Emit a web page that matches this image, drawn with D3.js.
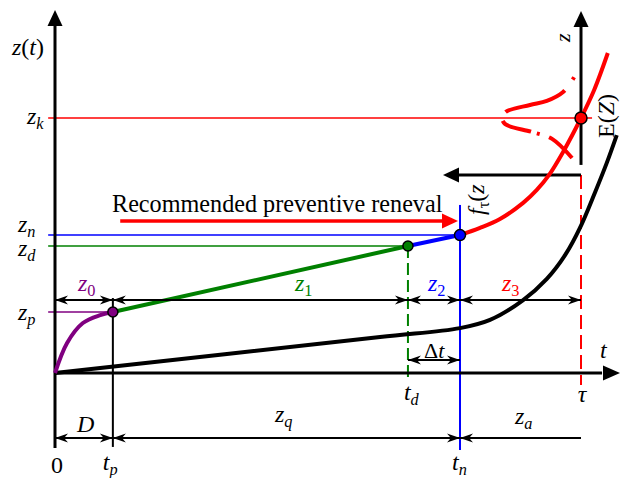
<!DOCTYPE html>
<html>
<head>
<meta charset="utf-8">
<script src="https://cdn.jsdelivr.net/npm/d3@7"></script>
<style>
  body { margin: 0; background: #fff; }
  svg { display: block; }
</style>
</head>
<body>
<div id="chart"></div>
<script>
// time marks on the t axis and wear levels on the z axis
const tp = 1.1, td = 6.71, tn = 7.7, tau = 10;
const zp = 2.39, zd = 4.98, zn = 5.41, zk = 10;

// wear curves [t, z]
const purpleCurve = [[0, 0], [0.23, 1.18], [0.53, 1.96], [0.86, 2.27], [tp, zp]];
const greenLine = [[tp, zp], [td, zd]];
const blueLine = [[td, zd], [tn, zn]];
const redCurve = [[tn, zn], [8.08, 5.69], [8.46, 6.04], [8.9, 6.67], [9.16, 7.18], [9.39, 7.76], [9.66, 8.67], [tau, zk], [10.25, 11.1], [10.51, 12.55]];
const blackCurve = [[0, 0], [6.18, 1.41], [tn, 1.76], [8.27, 2.08], [8.9, 2.86], [9.35, 3.69], [9.7, 4.63], [9.98, 5.69], [10.27, 7.1], [10.49, 8.24], [10.68, 9.33]];
// density f_tau(z) laid sideways off the tau axis: [z, f]
const density = [[11.6, 0.13], [11.02, 0.34], [10.67, 0.65], [10.51, 0.97], [10.24, 1.43], [10.0, 1.5], [9.76, 1.44], [9.45, 0.93], [9.18, 0.55], [8.43, 0.17]];

// dimension segments
const topDims = [[0, tp], [tp, td], [td, tn], [tn, tau]];
const topNames = ["0", "1", "2", "3"];
const topColors = ["#800080", "#008000", "#0000ff", "#ff0000"];
const bottomDims = [[0, tp], [tp, tn], [tn, tau]];

const width = 621, height = 478;
const svg = d3.select("#chart").append("svg")
  .attr("width", width)
  .attr("height", height)
  .attr("font-family", "'Liberation Serif', Tinos, 'DejaVu Serif', serif");

const x = d3.scaleLinear().domain([0, 10]).range([55, 581]);
const y = d3.scaleLinear().domain([0, 10]).range([373, 118]);
const line = d3.line().x(d => x(d[0])).y(d => y(d[1]));

function seg(p0, p1, color, w, dash) {
  svg.append("path")
    .attr("d", line([p0, p1]))
    .attr("fill", "none")
    .attr("stroke", color)
    .attr("stroke-width", w)
    .attr("stroke-dasharray", dash || null);
}

function curve(pts, color, w) {
  return svg.append("path")
    .attr("d", d3.line().x(d => x(d[0])).y(d => y(d[1])).curve(d3.curveCatmullRom.alpha(0.5))(pts))
    .attr("fill", "none")
    .attr("stroke", color)
    .attr("stroke-width", w);
}

// arrow head with tip at (px,py), pointing along angle
function head(px, py, angle, len, hw, color, notch) {
  svg.append("path")
    .attr("d", `M0,0L${-len},${-hw}L${-len * notch},0L${-len},${hw}Z`)
    .attr("transform", `translate(${px},${py}) rotate(${angle})`)
    .attr("fill", color);
}

function dim(t0, t1, z, both = true) {
  seg([t0, z], [t1, z], "#000", 2);
  if (both) head(x(t0), y(z), 180, 13, 4.5, "#000", 0.7);
  head(both ? x(t1) : x(t0), y(z), both ? 0 : 180, 13, 4.5, "#000", 0.7);
}

function label(px, py, parts, opts = {}) {
  const size = opts.size || 24;
  const t = svg.append("text")
    .attr("x", px).attr("y", py)
    .attr("font-size", size)
    .attr("fill", opts.color || "#000")
    .attr("text-anchor", opts.anchor || "start");
  if (opts.rotate) t.attr("transform", `rotate(${opts.rotate},${px},${py})`);
  let shift = 0;
  parts.forEach(([s, kind]) => {
    const sp = t.append("tspan").text(s);
    const sub = kind === "sub" || kind === "subi";
    const dy = (sub ? 5 : 0) - shift;
    if (dy) sp.attr("dy", dy);
    shift = sub ? 5 : 0;
    if (sub) sp.attr("font-size", size * 0.68);
    if (kind === "i" || kind === "subi") sp.attr("font-style", "italic");
  });
  return t;
}

// horizontal level lines
seg([-0.13, zk], [10.21, zk], "#ff0000", 1.5);
seg([-0.13, zn], [tn, zn], "#0000ff", 1.5);
seg([-0.13, zd], [td, zd], "#008000", 1.5);
seg([-0.13, zp], [tp, zp], "#800080", 1.5);

// vertical guide lines
seg([tp, 2.94], [tp, -2.9], "#000", 2);
seg([td, zd], [td, -0.35], "#008000", 2, "12,5");
seg([tn, 6.59], [tn, -3.02], "#0000ff", 2);
seg([tau, 7.76], [tau, -0.47], "#ff0000", 2, "14,6");

// main axes
seg([0, -2.94], [0, 13.9], "#000", 3);
head(x(0), 10, -90, 16, 7.5, "#000", 1);
seg([0, 0], [10.4, 0], "#000", 3);
head(620, y(0), 0, 17, 7.5, "#000", 1);

// sideways axis for the density at tau
seg([tau, 8.16], [tau, 13.9], "#000", 3);
head(x(tau), 11, -90, 16, 7.5, "#000", 1);
seg([tau, 7.76], [7.6, 7.76], "#000", 3);
head(443, y(7.76), 180, 16, 7.5, "#000", 1);

// density curve, dash-dot
svg.append("path")
  .attr("d", d3.line().x(d => x(tau - d[1])).y(d => y(d[0])).curve(d3.curveCatmullRom)(density))
  .attr("fill", "none")
  .attr("stroke", "#ff0000")
  .attr("stroke-width", 4)
  .attr("stroke-dasharray", "3,13,64,10,31,6,3,10,60");

// wear curves
curve(blackCurve, "#000", 4);
curve(purpleCurve, "#800080", 4);
curve(greenLine, "#008000", 4);
curve(blueLine, "#0000ff", 4);
curve(redCurve, "#ff0000", 4);

// dimension lines
seg([0, 2.86], [tau, 2.86], "#000", 2);
topDims.forEach(d => dim(d[0], d[1], 2.86));
dim(td, tn, 0.51);
dim(bottomDims[0][0], bottomDims[0][1], -2.55);
dim(bottomDims[1][0], bottomDims[1][1], -2.55);
dim(bottomDims[2][0], bottomDims[2][1], -2.55, false);

// recommended renewal arrow
seg([1.24, 5.96], [7.4, 5.96], "#ff0000", 3.5);
head(458, y(5.96), 0, 16, 7.5, "#ff0000", 1);
svg.append("text")
  .attr("x", 112).attr("y", 212)
  .attr("font-size", 24.2)
  .text("Recommended preventive reneval");

// points
const pts = [[tp, zp, "#800080", 5], [td, zd, "#008000", 5], [tn, zn, "#0000ff", 5.5], [tau, zk, "#ff0000", 6]];
svg.selectAll("circle.pt").data(pts).enter().append("circle")
  .attr("cx", d => x(d[0])).attr("cy", d => y(d[1])).attr("r", d => d[3])
  .attr("fill", d => d[2]).attr("stroke", "#000").attr("stroke-width", 1.5);

// axis labels
label(12, 55, [["z", "i"], ["(", "n"], ["t", "i"], [")", "n"]]);
label(600, 358, [["t", "i"]]);
label(27, 124, [["z", "i"], ["k", "subi"]]);
label(18, 232, [["z", "i"], ["n", "subi"]]);
label(18, 256, [["z", "i"], ["d", "subi"]]);
label(18, 320, [["z", "i"], ["p", "subi"]]);

label(x(0) + 2, 473, [["0", "n"]], { anchor: "middle" });
label(x(tp) - 10, 470, [["t", "i"], ["p", "subi"]]);
label(x(td) - 4, 400, [["t", "i"], ["d", "subi"]]);
label(x(tn) - 8, 470, [["t", "i"], ["n", "subi"]]);
label(x(tau) + 1, 402, [["τ", "i"]], { anchor: "middle" });

// segment labels
const topLabelX = [78, 295, 428, 502];
topNames.forEach((n, i) => {
  label(topLabelX[i], 291, [["z", "i"], [n, "sub"]], { color: topColors[i] });
});
label(424, 358, [["Δ", "n"], ["t", "i"]], { size: 22 });
label(77, 432, [["D", "i"]]);
label(275, 422, [["z", "i"], ["q", "subi"]]);
label(515, 424, [["z", "i"], ["a", "subi"]]);

// rotated labels on the density axis
label(570, 42, [["z", "i"]], { rotate: -90, size: 22 });
label(484, 215, [["f", "i"], ["τ", "sub"], ["(", "n"], ["z", "i"]], { rotate: -90 });
label(614, 138, [["E(", "n"], ["Z", "i"], [")", "n"]], { rotate: -90 });
</script>
</body>
</html>
